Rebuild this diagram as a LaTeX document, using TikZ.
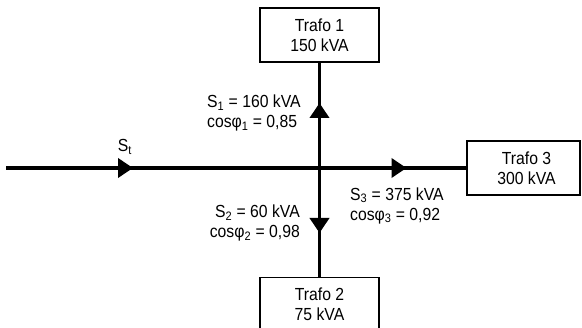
\documentclass[tikz,border=0pt]{standalone}
\usepackage{fontspec}
\setmainfont{Liberation Sans}[FakeStretch=0.9]
\usetikzlibrary{arrows.meta,decorations.markings}

\begin{document}
\begin{tikzpicture}[x=1pt, y=-1pt,
  every node/.style={font=\fontsize{17.5}{20}\selectfont},
  trafo/.style={draw, line width=1.6pt, minimum width=119pt, minimum height=54pt, inner sep=0pt, align=center},
  feeder/.style={line width=3.8pt},
  flow/.style={postaction={decorate}, decoration={markings,
    mark=at position #1 with {\arrow{Triangle[length=15pt,width=19pt]}}}}]
  \useasboundingbox (0,0) rectangle (582,328);
  % transformers
  \node[trafo] (t1) at (319.5,35) {Trafo 1\\150 kVA};
  \node[trafo] (t2) at (319.5,304.5) {Trafo 2\\75 kVA};
  \node[trafo, minimum width=113pt] (t3) at (523.5,168) {\hspace*{6pt}Trafo 3\\\hspace*{6pt}300 kVA};
  \coordinate (src) at (6,168);
  \coordinate (bus) at (319.5,168);
  % feeders
  \draw[feeder, flow=127pt] (src) -- (bus);
  \draw[feeder, flow=87pt] (bus) -- (t3.west);
  \draw[feeder, flow=65pt] (bus) -- (t1.south);
  \draw[feeder, flow=65pt] (bus) -- (t2.north);
  % flows
  \node (st) at (125,147) {S\textsubscript{t}};
  \node[anchor=west, align=left, inner sep=0pt] (s1) at (207,113) {S\textsubscript{1} = 160 kVA\\cosφ\textsubscript{1} = 0,85};
  \node[anchor=east, align=right, inner sep=0pt] (s2) at (300,223) {S\textsubscript{2} = 60 kVA\\cosφ\textsubscript{2} = 0,98};
  \node[anchor=west, align=left, inner sep=0pt] (s3) at (350,205.5) {S\textsubscript{3} = 375 kVA\\cosφ\textsubscript{3} = 0,92};
\end{tikzpicture}
\end{document}
